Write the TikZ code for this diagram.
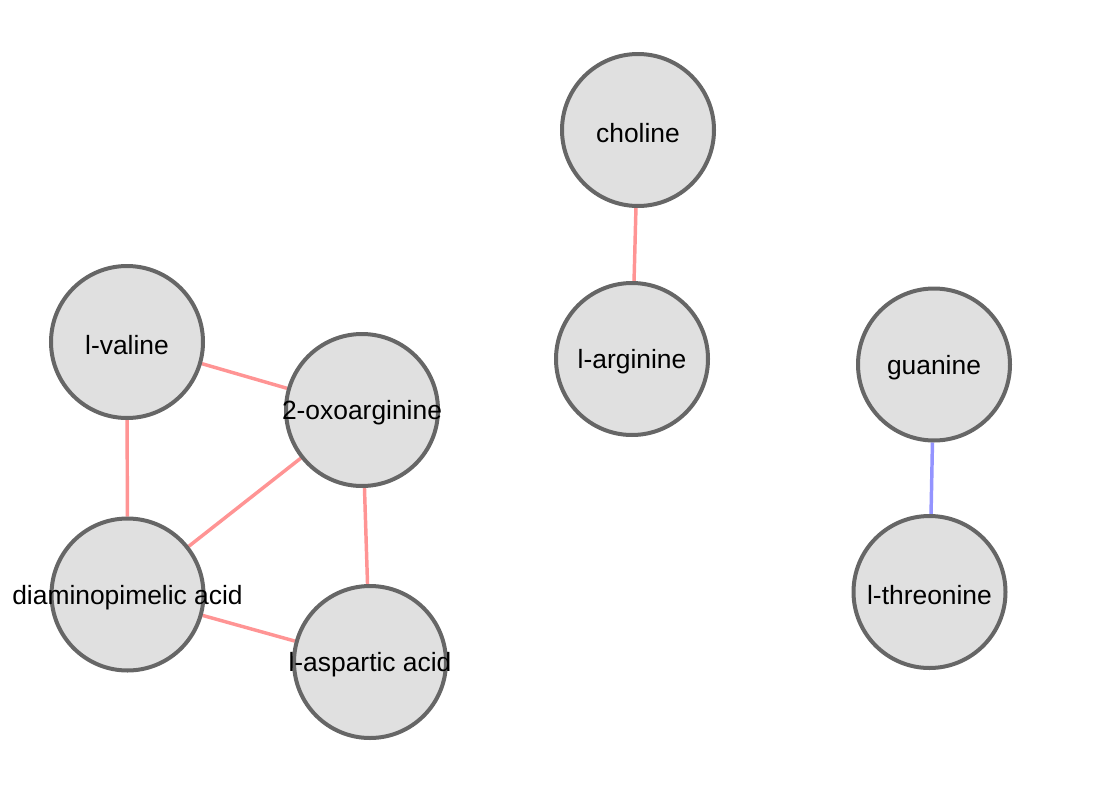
\documentclass[tikz,border=0pt]{standalone}
\usepackage{fontspec}
\setmainfont{Liberation Sans}
\usetikzlibrary{backgrounds}
\definecolor{nodefill}{HTML}{E0E0E0}
\definecolor{nodeborder}{HTML}{666666}
\definecolor{redge}{HTML}{FF9494}
\definecolor{bedge}{HTML}{9494FF}
\tikzset{
  molnode/.style={circle, draw=nodeborder, fill=nodefill, line width=3pt, minimum size=114pt, inner sep=0pt},
  lbl/.style={font=\fontsize{19.8}{23}\selectfont, inner sep=0pt, yshift=-2.2pt},
  redline/.style={draw=redge, line width=2.6pt},
  blueline/.style={draw=bedge, line width=2.6pt}
}
\begin{document}
\begin{tikzpicture}[x=0.75pt,y=-0.75pt]
\useasboundingbox (0,0) rectangle (1097,807);
\node[molnode, label={[lbl]center:choline}] (choline) at (638,130) {};
\node[molnode, label={[lbl]center:l-arginine}] (arg) at (632,359) {};
\node[molnode, label={[lbl]center:l-valine}] (val) at (127,342) {};
\node[molnode, label={[lbl]center:2-oxoarginine}] (oxo) at (362,410) {};
\node[molnode, label={[lbl]center:diaminopimelic acid}] (dap) at (127.5,594.5) {};
\node[molnode, label={[lbl]center:l-aspartic acid}] (asp) at (370,662) {};
\node[molnode, label={[lbl]center:guanine}] (gua) at (934,364.5) {};
\node[molnode, label={[lbl]center:l-threonine}] (thr) at (929.5,592) {};
\begin{scope}[on background layer]
\draw[redline] (choline) -- (arg);
\draw[redline] (val) -- (oxo);
\draw[redline] (val) -- (dap);
\draw[redline] (oxo) -- (dap);
\draw[redline] (oxo) -- (asp);
\draw[redline] (dap) -- (asp);
\draw[blueline] (gua) -- (thr);
\end{scope}
\end{tikzpicture}
\end{document}
